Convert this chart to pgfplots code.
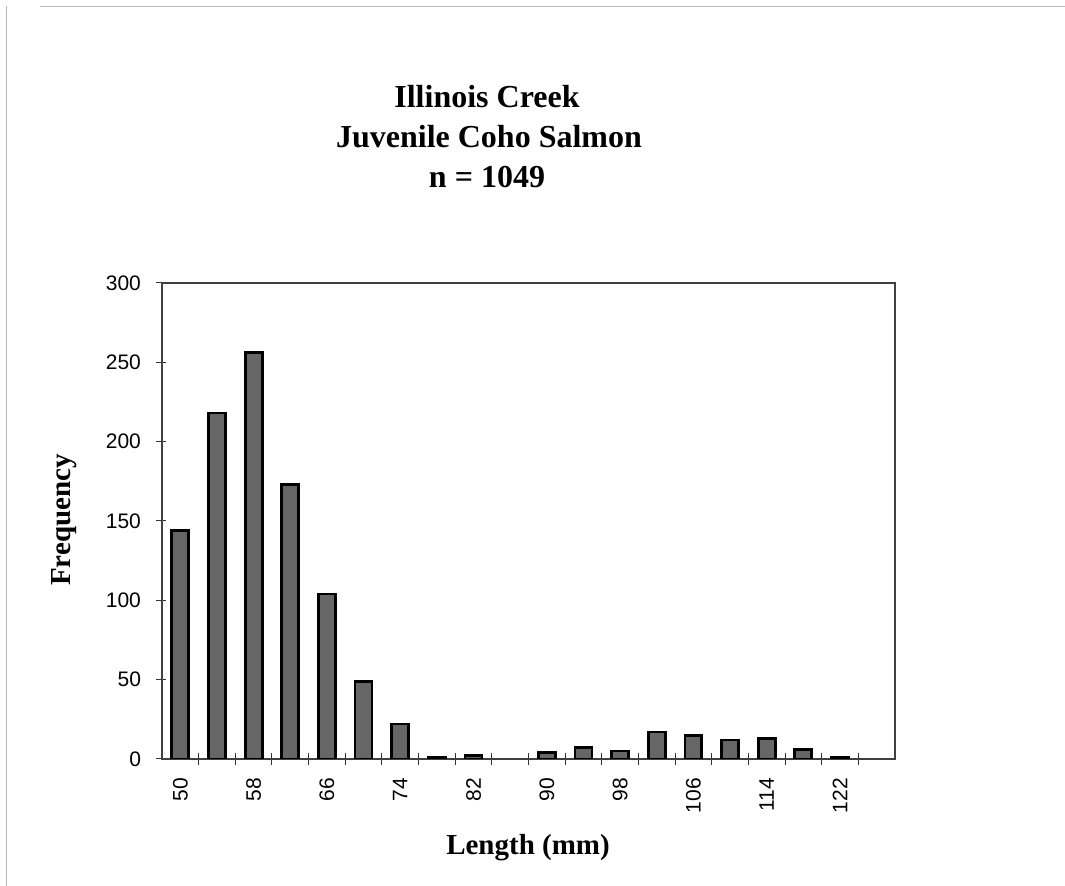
\documentclass[border=0pt]{standalone}
\usepackage{fontspec}
\setmainfont{Liberation Serif}
\newfontfamily\arial{Liberation Sans}
\usepackage{pgfplots}
\pgfplotsset{compat=1.18}
\begin{document}
\begin{tikzpicture}[x=0.5pt,y=0.5pt]
\path[use as bounding box] (0,0) rectangle (1065,886);
\draw[gray!55, line width=0.5pt] (40,879) -- (1065,879);
\draw[gray!55, line width=0.5pt] (6,880) -- (6,0);
\begin{axis}[
  at={(81pt,63.5pt)}, anchor=south west,
  scale only axis, width=366.5pt, height=238pt,
  xmin=48, xmax=128, ymin=0, ymax=300,
  ytick={0,50,...,300},
  xtick={50,58,...,122},
  minor xtick={52,56,...,124},
  xtick pos=bottom, ytick pos=left,
  tick align=outside,
  major x tick style={draw=none},
  minor tick length=6pt, major tick length=5pt,
  tick style={black!80, line width=0.5pt},
  minor x tick style={yshift=3pt},
  major y tick style={xshift=2pt},
  axis line style={black!75, line width=0.7pt},
  xticklabel style={rotate=90, anchor=east, font=\arial\fontsize{10.5}{12}\selectfont},
  yticklabel style={font=\arial\fontsize{10.5}{12}\selectfont},
  /pgf/number format/assume math mode=true,
  xticklabel shift=1pt, yticklabel shift=2pt,
  ybar, bar width=1.85,
]
\addplot[fill=black!60, draw=black, line width=1.4pt] coordinates {
(50,144) (54,218) (58,256) (62,173) (66,104) (70,49) (74,22) (78,1) (82,2)
(90,4) (94,7) (98,5) (102,17) (106,15) (110,12) (114,13) (118,6) (122,1)
};
\end{axis}
\begin{scope}[font=\bfseries\fontsize{16}{20}\selectfont]
\node[anchor=base] at (487,778) {Illinois Creek};
\node[anchor=base] at (489,738) {Juvenile Coho Salmon};
\node[anchor=base] at (487,698) {n = 1049};
\end{scope}
\node[anchor=base, font=\bfseries\fontsize{14.5}{17}\selectfont] at (528,31) {Length (mm)};
\node[anchor=base, rotate=90, font=\bfseries\fontsize{14.5}{17}\selectfont] at (70,366) {Frequency};
\end{tikzpicture}
\end{document}
